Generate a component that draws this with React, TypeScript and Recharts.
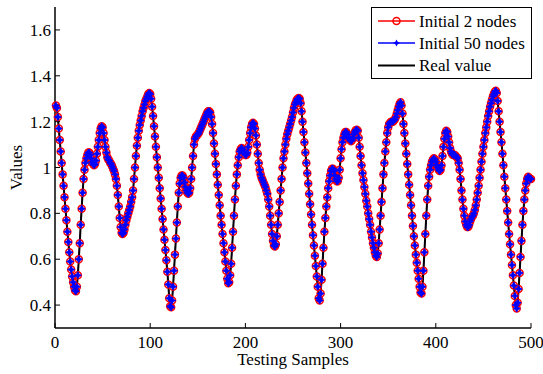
import { LineChart, Line, XAxis, YAxis } from 'recharts'

// values, sample 1..500 (both predictions sit on the real curve at this scale)
const realValue = [
  1.27, 1.26, 1.22, 1.17, 1.12, 1.07, 1.02, 0.97, 0.92, 0.87,
  0.82, 0.77, 0.72, 0.675, 0.63, 0.59, 0.555, 0.525, 0.5, 0.48,
  0.465, 0.46, 0.48, 0.53, 0.6, 0.67, 0.75, 0.82, 0.89, 0.95,
  0.99, 1.02, 1.04, 1.055, 1.065, 1.065, 1.055, 1.04, 1.025, 1.015,
  1.01, 1.015, 1.03, 1.06, 1.09, 1.12, 1.15, 1.17, 1.18, 1.175,
  1.15, 1.12, 1.09, 1.065, 1.045, 1.035, 1.03, 1.02, 1.015, 1.005,
  0.995, 0.985, 0.97, 0.95, 0.92, 0.88, 0.83, 0.78, 0.74, 0.715,
  0.71, 0.715, 0.73, 0.75, 0.77, 0.785, 0.8, 0.815, 0.83, 0.85,
  0.87, 0.9, 0.95, 1.0, 1.05, 1.095, 1.13, 1.16, 1.185, 1.205,
  1.225, 1.245, 1.26, 1.275, 1.29, 1.3, 1.31, 1.32, 1.325, 1.32,
  1.3, 1.265, 1.225, 1.18, 1.135, 1.09, 1.045, 1.0, 0.955, 0.91,
  0.865, 0.82, 0.775, 0.73, 0.685, 0.64, 0.595, 0.545, 0.49, 0.43,
  0.395, 0.39, 0.42, 0.48, 0.55, 0.62, 0.69, 0.76, 0.83, 0.89,
  0.93, 0.955, 0.965, 0.965, 0.955, 0.935, 0.915, 0.9, 0.89, 0.885,
  0.89, 0.91, 0.95, 1.0, 1.05, 1.1, 1.125, 1.135, 1.14, 1.145,
  1.15, 1.16, 1.17, 1.18, 1.19, 1.2, 1.21, 1.22, 1.23, 1.24,
  1.245, 1.245, 1.24, 1.22, 1.19, 1.15, 1.105, 1.06, 1.015, 0.97,
  0.925, 0.88, 0.835, 0.79, 0.75, 0.71, 0.67, 0.63, 0.59, 0.55,
  0.515, 0.495, 0.5, 0.53, 0.58, 0.65, 0.72, 0.79, 0.86, 0.92,
  0.97, 1.01, 1.045, 1.07, 1.08, 1.085, 1.08, 1.07, 1.06, 1.055,
  1.055, 1.065, 1.09, 1.12, 1.15, 1.175, 1.19, 1.195, 1.19, 1.17,
  1.14, 1.1, 1.06, 1.02, 0.99, 0.97, 0.955, 0.945, 0.935, 0.925,
  0.915, 0.9, 0.885, 0.86, 0.83, 0.79, 0.75, 0.71, 0.68, 0.66,
  0.655, 0.665, 0.7, 0.75, 0.8, 0.85, 0.9, 0.95, 1.0, 1.04,
  1.07, 1.1, 1.125, 1.145, 1.16, 1.175, 1.19, 1.205, 1.22, 1.24,
  1.26, 1.275, 1.285, 1.295, 1.3, 1.303, 1.3, 1.28, 1.245, 1.2,
  1.155, 1.11, 1.065, 1.02, 0.975, 0.93, 0.885, 0.84, 0.795, 0.75,
  0.705, 0.66, 0.615, 0.57, 0.525, 0.48, 0.43, 0.42, 0.45, 0.51,
  0.58, 0.65, 0.72, 0.78, 0.83, 0.87, 0.91, 0.94, 0.965, 0.985,
  0.995, 0.995, 0.985, 0.965, 0.95, 0.94, 0.94, 0.955, 0.99, 1.04,
  1.08, 1.11, 1.13, 1.145, 1.155, 1.155, 1.145, 1.135, 1.125, 1.12,
  1.115, 1.12, 1.13, 1.145, 1.155, 1.163, 1.165, 1.16, 1.13, 1.09,
  1.05, 1.01, 0.975, 0.945, 0.915, 0.885, 0.855, 0.83, 0.8, 0.775,
  0.75, 0.72, 0.695, 0.67, 0.65, 0.63, 0.615, 0.61, 0.625, 0.67,
  0.73, 0.79, 0.85, 0.91, 0.97, 1.02, 1.07, 1.11, 1.15, 1.175,
  1.19, 1.195, 1.2, 1.2, 1.2, 1.205, 1.21, 1.22, 1.235, 1.25,
  1.265, 1.278, 1.285, 1.27, 1.235, 1.19, 1.15, 1.105, 1.06, 1.015,
  0.97, 0.925, 0.88, 0.835, 0.79, 0.745, 0.7, 0.66, 0.62, 0.585,
  0.55, 0.515, 0.48, 0.455, 0.45, 0.48, 0.55, 0.63, 0.71, 0.79,
  0.86, 0.92, 0.96, 0.99, 1.01, 1.025, 1.035, 1.04, 1.035, 1.025,
  1.01, 1.0, 0.99, 0.985, 0.99, 1.01, 1.05, 1.09, 1.125, 1.15,
  1.16, 1.155, 1.135, 1.11, 1.085, 1.07, 1.06, 1.055, 1.055, 1.055,
  1.05, 1.045, 1.04, 1.02, 0.99, 0.95, 0.9, 0.86, 0.82, 0.79,
  0.765, 0.75, 0.74, 0.74, 0.75, 0.765, 0.775, 0.785, 0.79, 0.8,
  0.815, 0.835, 0.86, 0.89, 0.92, 0.955, 0.99, 1.025, 1.06, 1.09,
  1.12, 1.15, 1.175, 1.2, 1.225, 1.245, 1.265, 1.28, 1.295, 1.31,
  1.32, 1.33, 1.335, 1.325, 1.29, 1.245, 1.2, 1.155, 1.11, 1.06,
  1.01, 0.96, 0.91, 0.86, 0.81, 0.76, 0.71, 0.665, 0.62, 0.575,
  0.53, 0.485, 0.44, 0.4, 0.385, 0.41, 0.47, 0.54, 0.61, 0.68,
  0.75, 0.81, 0.86, 0.9, 0.93, 0.95, 0.96, 0.955, 0.95, 0.95,
]
const initial2Nodes = realValue
const initial50Nodes = realValue

const xTicks = [0, 100, 200, 300, 400, 500]
const yTicks = [0.4, 0.6, 0.8, 1, 1.2, 1.4, 1.6]
const seriesNames = ['Initial 2 nodes', 'Initial 50 nodes', 'Real value']

const data = realValue.map((v, i) => ({
  sample: i + 1,
  init2: initial2Nodes[i],
  init50: initial50Nodes[i],
  real: v,
}))

const FONT = 'Liberation Serif'
const FS = 17
const RED = '#ff0000'
const BLUE = '#0000ff'

const starPath = (cx: number, cy: number, R: number, r: number) => {
  const d = r * 0.7071
  return `M${cx},${cy - R}L${cx + d},${cy - d}L${cx + R},${cy}L${cx + d},${cy + d}L${cx},${cy + R}L${cx - d},${cy + d}L${cx - R},${cy}L${cx - d},${cy - d}Z`
}

// eslint-disable-next-line @typescript-eslint/no-explicit-any
const RedCircle = (props: any) => {
  const { cx, cy, index } = props
  if (cx == null || cy == null) return <g key={`r${index}`} />
  return <circle key={`r${index}`} cx={cx} cy={cy} r={3.5} fill="none" stroke={RED} strokeWidth={1.5} />
}

// eslint-disable-next-line @typescript-eslint/no-explicit-any
const BlueStar = (props: any) => {
  const { cx, cy, index } = props
  if (cx == null || cy == null) return <g key={`b${index}`} />
  return <path key={`b${index}`} d={starPath(cx, cy, 3.6, 1.7)} fill={BLUE} stroke={BLUE} strokeWidth={0.8} />
}

function LegendBox() {
  const rows = [14, 36, 58.5]
  return (
    <svg width={161} height={72} style={{ position: 'absolute', left: 371, top: 7 }}>
      <rect x={0.5} y={0.5} width={160} height={71} fill="#fff" stroke="#000" strokeWidth={1} />
      <line x1={7} x2={44} y1={rows[0]} y2={rows[0]} stroke={RED} strokeWidth={1.5} />
      <circle cx={25.5} cy={rows[0]} r={3.5} fill="none" stroke={RED} strokeWidth={1.5} />
      <line x1={7} x2={44} y1={rows[1]} y2={rows[1]} stroke={BLUE} strokeWidth={1.5} />
      <path d={starPath(25.5, rows[1], 3.6, 1.7)} fill={BLUE} />
      <line x1={7} x2={44} y1={rows[2]} y2={rows[2]} stroke="#000" strokeWidth={2} />
      {seriesNames.map((n, i) => (
        <text key={n} x={48} y={rows[i] + 5.5} style={{ fontFamily: FONT, fontSize: FS }} fill="#000">
          {n}
        </text>
      ))}
    </svg>
  )
}

const tickStyle = { fill: '#000', fontSize: FS, style: { fontFamily: FONT } }

export default function App() {
  return (
    <div style={{ position: 'absolute', left: 0, top: 0, width: 543, height: 374, background: '#fff', fontFamily: FONT }}>
      <LineChart width={543} height={374} data={data} margin={{ top: 7, right: 12, bottom: 0, left: 0 }} style={{ fontFamily: FONT }}>
        <XAxis
          dataKey="sample"
          type="number"
          domain={[0, 500]}
          ticks={xTicks}
          interval={0}
          height={46}
          tickSize={-5}
          tickMargin={13}
          tick={tickStyle}
          axisLine={{ stroke: '#000', strokeWidth: 1.5 }}
          tickLine={{ stroke: '#000' }}
          label={{ value: 'Testing Samples', position: 'insideBottom', offset: 9, fill: '#000', fontSize: FS, style: { fontFamily: FONT } }}
        />
        <XAxis
          xAxisId="top"
          orientation="top"
          dataKey="sample"
          type="number"
          domain={[0, 500]}
          ticks={xTicks}
          interval={0}
          height={0}
          tickSize={-5}
          tick={false}
          axisLine={{ stroke: '#000', strokeWidth: 1.5 }}
          tickLine={{ stroke: '#000' }}
        />
        <YAxis
          type="number"
          domain={[0.3, 1.7]}
          ticks={yTicks}
          interval={0}
          width={55}
          tickSize={-5}
          tickMargin={9}
          tick={tickStyle}
          tickFormatter={(v: number) => (v === 1 ? '1' : v.toFixed(1))}
          axisLine={{ stroke: '#000', strokeWidth: 1.5 }}
          tickLine={{ stroke: '#000' }}
          label={{ value: 'Values', angle: -90, position: 'center', dx: -12, fill: '#000', fontSize: FS, style: { fontFamily: FONT } }}
        />
        <YAxis
          yAxisId="right"
          orientation="right"
          type="number"
          domain={[0.3, 1.7]}
          ticks={yTicks}
          interval={0}
          width={0}
          tickSize={-5}
          tick={false}
          axisLine={{ stroke: '#000', strokeWidth: 1.5 }}
          tickLine={{ stroke: '#000' }}
        />
        <Line type="linear" dataKey="init2" name={seriesNames[0]} stroke={RED} strokeWidth={1} dot={RedCircle} activeDot={false} isAnimationActive={false} />
        <Line type="linear" dataKey="init50" name={seriesNames[1]} stroke={BLUE} strokeWidth={1} dot={BlueStar} activeDot={false} isAnimationActive={false} />
        <Line type="linear" dataKey="real" name={seriesNames[2]} stroke="#000" strokeWidth={2} dot={false} activeDot={false} isAnimationActive={false} />
      </LineChart>
      <LegendBox />
    </div>
  )
}
